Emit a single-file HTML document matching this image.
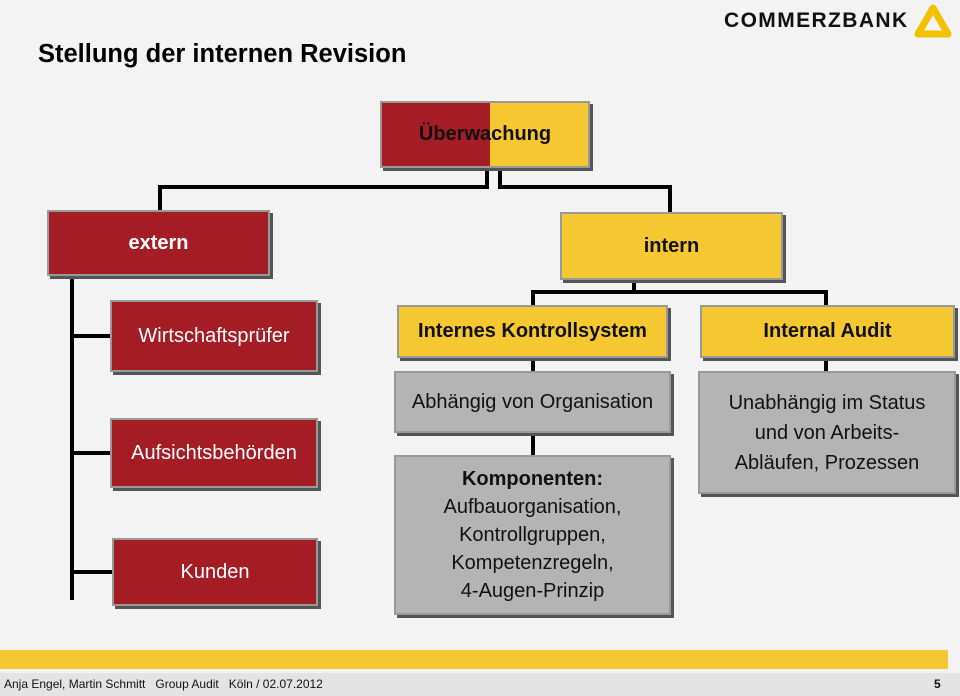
<!DOCTYPE html>
<html><head><meta charset="utf-8"><style>
body{margin:0;width:960px;height:696px;background:#f3f3f3;position:relative;overflow:hidden;font-family:"Liberation Sans",sans-serif}
.b{position:absolute;box-sizing:border-box;display:flex;align-items:center;justify-content:center;text-align:center;box-shadow:3px 3px 0 #555;border:2px solid #999}
.r{background:#a51d24;color:#fff;font-size:20px}
.y{background:#f5c731;color:#111;font-size:20px;font-weight:bold}
.g{background:#b4b4b4;color:#111;font-size:20px;line-height:26px}
.l{position:absolute;background:#000}
</style></head><body>
<div style="position:absolute;left:38px;top:40px;font-size:25.5px;font-weight:bold;color:#000">Stellung der internen Revision</div>
<div style="position:absolute;left:724px;top:9px;font-size:21px;font-weight:900;letter-spacing:1.4px;color:#111">COMMERZBANK</div>
<svg style="position:absolute;left:914px;top:4px" width="38" height="34"><polygon points="19,4 34,30 4,30" fill="none" stroke="#f2c200" stroke-width="7" stroke-linejoin="round"/></svg>

<div class="l" style="left:485px;top:168px;width:4px;height:21px"></div>
<div class="l" style="left:158px;top:185px;width:331px;height:4px"></div>
<div class="l" style="left:158px;top:185px;width:4px;height:26px"></div>
<div class="l" style="left:498px;top:168px;width:4px;height:21px"></div>
<div class="l" style="left:498px;top:185px;width:174px;height:4px"></div>
<div class="l" style="left:668px;top:185px;width:4px;height:28px"></div>
<div class="l" style="left:632px;top:280px;width:4px;height:14px"></div>
<div class="l" style="left:531px;top:290px;width:297px;height:4px"></div>
<div class="l" style="left:531px;top:290px;width:4px;height:16px"></div>
<div class="l" style="left:824px;top:290px;width:4px;height:16px"></div>
<div class="l" style="left:70px;top:276px;width:4px;height:324px"></div>
<div class="l" style="left:70px;top:334px;width:42px;height:4px"></div>
<div class="l" style="left:70px;top:451px;width:42px;height:4px"></div>
<div class="l" style="left:70px;top:570px;width:42px;height:4px"></div>
<div class="l" style="left:531px;top:358px;width:4px;height:14px"></div>
<div class="l" style="left:531px;top:433px;width:4px;height:22px"></div>
<div class="l" style="left:824px;top:358px;width:4px;height:14px"></div>

<div class="b" style="left:380px;top:101px;width:210px;height:67px;background:linear-gradient(90deg,#a51d24 0 108px,#f5c731 108px);font-size:20px;font-weight:bold;color:#111">Überwachung</div>
<div class="b r" style="left:47px;top:210px;width:223px;height:66px;font-weight:bold">extern</div>
<div class="b y" style="left:560px;top:212px;width:223px;height:68px">intern</div>
<div class="b r" style="left:110px;top:300px;width:208px;height:72px">Wirtschaftsprüfer</div>
<div class="b r" style="left:110px;top:418px;width:208px;height:70px">Aufsichtsbehörden</div>
<div class="b r" style="left:112px;top:538px;width:206px;height:68px">Kunden</div>
<div class="b y" style="left:397px;top:305px;width:271px;height:53px">Internes Kontrollsystem</div>
<div class="b y" style="left:700px;top:305px;width:255px;height:53px">Internal Audit</div>
<div class="b g" style="left:394px;top:371px;width:277px;height:62px">Abhängig von Organisation</div>
<div class="b g" style="left:394px;top:455px;width:277px;height:160px;line-height:28px"><div><b>Komponenten:</b><br>Aufbauorganisation,<br>Kontrollgruppen,<br>Kompetenzregeln,<br>4-Augen-Prinzip</div></div>
<div class="b g" style="left:698px;top:371px;width:258px;height:123px;line-height:30px"><div>Unabhängig im Status<br>und von Arbeits-<br>Abläufen, Prozessen</div></div>

<div style="position:absolute;left:0;top:650px;width:948px;height:19px;background:#f5c731"></div>
<div style="position:absolute;left:0;top:673px;width:960px;height:23px;background:#e4e4e4;font-size:12px;color:#111;line-height:23px">
<span style="position:absolute;left:4px">Anja Engel, Martin Schmitt &nbsp;&nbsp;Group Audit &nbsp;&nbsp;Köln / 02.07.2012</span>
<span style="position:absolute;left:934px;font-weight:bold">5</span></div>
</body></html>
